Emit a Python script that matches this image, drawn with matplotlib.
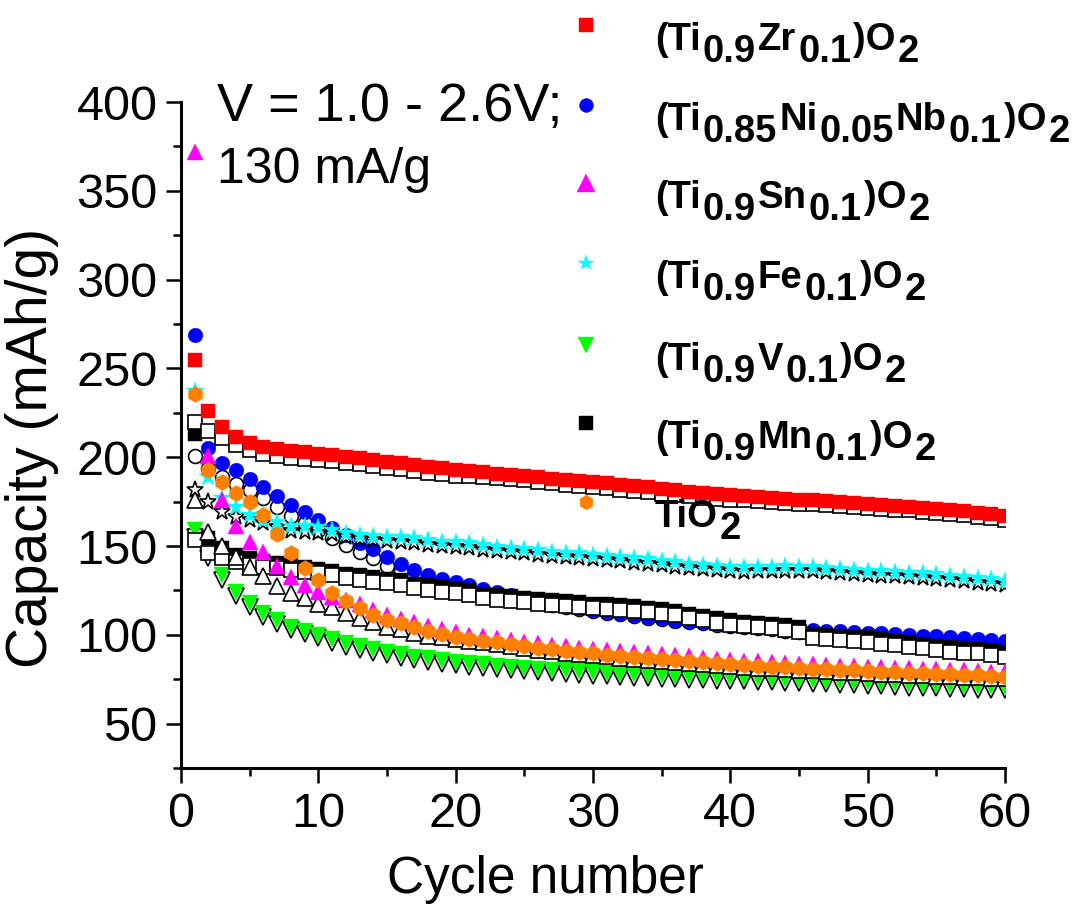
import numpy as np
import matplotlib.pyplot as plt
from matplotlib.lines import Line2D
from matplotlib.ticker import MultipleLocator

plt.rcParams['font.family'] = ['Liberation Sans', 'DejaVu Sans']

cycles = list(range(1, 61))

# (Ti0.9Zr0.1)O2
zr_chg = [255, 226, 217, 211.5, 208, 206, 204.5, 203.5, 203, 202,
          201.2, 200.2, 199.3, 198.4, 197.4, 196.9, 195.6, 194.6, 193.7, 192.9,
          192, 191.5, 190.8, 190.2, 189.6, 188.8, 188, 187.3, 186.6, 186,
          185.2, 184.4, 183.7, 183, 182.2, 181.4, 180.6, 180, 179.4, 178.8,
          178.2, 177.6, 177.1, 176.6, 176.1, 175.7, 175.2, 174.7, 174.2, 173.7,
          173.2, 172.7, 172.2, 171.6, 171, 170.3, 169.5, 168.7, 167.8, 167]
zr_dis = [220, 214.5, 211, 207, 204, 202, 200.8, 199.8, 199.2, 198.7,
          197.9, 196.9, 196, 195.1, 194.1, 193.6, 192.3, 191.3, 190.4, 189.6,
          189.3, 188.8, 188.1, 187.5, 186.9, 186.1, 185.3, 184.6, 183.9, 183.3,
          182.5, 181.7, 181, 180.3, 179.5, 178.7, 177.9, 177.3, 176.7, 176.1,
          176, 175.4, 174.9, 174.4, 173.9, 173.5, 173, 172.5, 172, 171.5,
          171, 170.5, 170, 169.4, 168.8, 168.1, 167.3, 166.5, 165.6, 164.8]

# (Ti0.85Ni0.05Nb0.1)O2
ninb_chg = [269, 205, 196.6, 192.7, 187.7, 183.4, 178, 173, 169, 164.6,
            160, 156.2, 151.5, 148.3, 144, 139.8, 136.5, 133.5, 131.5, 129.5,
            128, 126, 124.2, 122.5, 121, 119.5, 118, 116.6, 115.3, 114,
            113, 112, 111, 110.2, 109.4, 108.6, 107.8, 107, 106.3, 105.6,
            105, 104.5, 104, 103.6, 103.2, 102.8, 102.4, 102, 101.6, 101.2,
            100.8, 100.4, 100, 99.6, 99.1, 98.6, 98.1, 97.6, 97.1, 96.6]
ninb_dis = [200.5, 194, 189, 185, 181.5, 177, 172, 167, 163, 159,
            154.5, 150.5, 146.8, 143, 139, 136, 133, 130.5, 128.5, 126.5,
            125, 123.5, 122, 120.7, 119.4, 118.2, 117, 115.8, 114.6, 113.5,
            112.5, 111.5, 110.5, 109.6, 108.8, 108, 107.2, 106.4, 105.6, 104.9,
            104.2, 103.6, 103, 102.4, 101.8, 101.3, 100.8, 100.3, 99.8, 99.3,
            98.8, 98.3, 97.8, 97.3, 96.8, 96.3, 95.8, 95.3, 94.8, 94.3]

# (Ti0.9Sn0.1)O2
sn_chg = [372, 200.5, 176, 161.5, 152.5, 146.8, 139, 132.7, 128, 124.3,
          121.5, 119.8, 117.3, 113.7, 111.2, 109, 107.1, 104.7, 103, 101.5,
          100, 99.2, 98.2, 97.1, 96.1, 95.2, 94.3, 93.5, 92.7, 92,
          91.3, 90.7, 90.1, 89.5, 89, 88.4, 87.8, 87.2, 86.6, 86,
          85.5, 85, 84.6, 84.2, 83.8, 83.5, 83.1, 82.7, 82.4, 82,
          81.7, 81.4, 81.1, 80.8, 80.5, 80.2, 79.9, 79.6, 79.3, 79]
sn_dis = [176, 158, 150, 144, 138.4, 133, 127.5, 123.5, 121, 117.5,
          115.5, 112, 109.5, 107, 104.5, 103, 101, 99.5, 98.5, 97.5,
          96.5, 95.7, 94.7, 93.6, 92.6, 91.7, 90.8, 90, 89.2, 88.5,
          87.8, 87.2, 86.6, 86, 85.5, 84.9, 84.3, 83.7, 83.1, 82.5,
          82, 81.5, 81.1, 80.7, 80.3, 80, 79.6, 79.2, 78.9, 78.5,
          78.2, 77.9, 77.6, 77.3, 77, 76.7, 76.4, 76.1, 75.8, 75.5]

# (Ti0.9Fe0.1)O2
fe_chg = [237, 189, 177, 172, 167.4, 164.6, 163.7, 161.5, 161, 160.5,
          159, 157.5, 156.3, 155.7, 155.2, 154.8, 154.3, 153.3, 152.4, 152,
          151.6, 150.3, 149.6, 149, 148.3, 147.5, 146.8, 146.3, 145.8, 145.2,
          144.6, 144, 143.2, 142.4, 141.6, 140.8, 140, 139.4, 138.8, 138.3,
          138, 138.2, 138.4, 138.5, 138.4, 138.3, 137.8, 137.2, 136.7, 136.2,
          135.8, 135.4, 135, 134.6, 134, 133.3, 132.6, 131.9, 131.2, 130.5]
fe_dis = [181.5, 175, 169.3, 166.5, 164.6, 162.8, 160.7, 158.5, 158, 157.5,
          156.5, 155, 153.8, 153.2, 152.7, 152.3, 151.8, 150.8, 149.9, 149.5,
          149.1, 147.8, 147.1, 146.5, 145.8, 145, 144.3, 143.8, 143.3, 142.7,
          142.1, 141.5, 140.7, 139.9, 139.1, 138.3, 137.5, 136.9, 136.3, 135.8,
          135.5, 135.7, 135.9, 136, 135.9, 135.8, 135.3, 134.7, 134.2, 133.7,
          133.3, 132.9, 132.5, 132.1, 131.5, 130.8, 130.1, 129.4, 128.7, 128]

# (Ti0.9V0.1)O2
v_chg = [159, 147, 133.6, 124.3, 117.8, 112, 108.3, 104.6, 102.2, 100,
         97.5, 95.2, 93.7, 91.8, 90.5, 89.2, 87.7, 86.8, 85.8, 84.9,
         84, 83.3, 82.6, 82, 81.4, 80.9, 80.4, 79.9, 79.4, 79,
         78.6, 78.2, 77.8, 77.5, 77.2, 76.9, 76.6, 76.4, 76.2, 76,
         75.8, 75.6, 75.3, 75, 74.7, 74.4, 74.1, 73.8, 73.5, 73.2,
         72.9, 72.6, 72.3, 72, 71.8, 71.6, 71.4, 71.2, 71, 70.8]
v_dis = [155, 143, 131, 122, 115.8, 110, 106.3, 102.6, 100.2, 98,
         95.5, 93.2, 91.7, 89.8, 88.5, 87.2, 85.7, 84.8, 83.8, 82.9,
         82, 81.3, 80.6, 80, 79.4, 78.9, 78.4, 77.9, 77.4, 77,
         76.6, 76.2, 75.8, 75.5, 75.2, 74.9, 74.6, 74.4, 74.2, 74,
         73.8, 73.6, 73.3, 73, 72.7, 72.4, 72.1, 71.8, 71.5, 71.2,
         70.9, 70.6, 70.3, 70, 69.8, 69.6, 69.4, 69.2, 69, 68.8]

# (Ti0.9Mn0.1)O2
mn_chg = [213, 154.3, 148.7, 145, 143, 141.5, 140.3, 139.2, 138.2, 137.2,
          136.2, 134.4, 133.4, 132.5, 131.6, 130.6, 128.8, 127.8, 126.9, 125.9,
          125, 123.1, 122.3, 121.6, 120.9, 120.1, 119.4, 118.8, 118.2, 117.6,
          117.1, 116.6, 116, 115.3, 114.5, 113.6, 111.9, 110.7, 109.5, 108.2,
          107.3, 106.8, 106.2, 105.3, 104.3, 100.5, 100, 99.5, 99, 98.5,
          97.6, 96.7, 95.8, 94.8, 93.9, 93, 92.5, 92.1, 91.2, 90.2]
mn_dis = [153.4, 146, 143, 141.2, 139.3, 138.4, 137.5, 136.5, 135.6, 134.6,
          133.7, 131.8, 130.8, 129.9, 129, 128, 126.2, 125.2, 124.3, 123.3,
          122.4, 120.5, 119.7, 119, 118.3, 117.5, 116.8, 116.2, 115.6, 115,
          114.5, 114, 113.4, 112.7, 111.9, 111, 109.3, 108.1, 106.9, 105.6,
          104.8, 104.3, 103.7, 102.8, 101.8, 98, 97.5, 97, 96.5, 96,
          95.1, 94.2, 93.3, 92.3, 91.4, 90.5, 90, 89.6, 88.7, 87.7]

# TiO2
tio2 = [235.5, 192.7, 186, 180, 174.5, 167.4, 157, 145.8, 137.5, 130.8,
        123.3, 119, 115, 111.2, 108.5, 106.5, 104.2, 102.4, 100.6, 99,
        97.8, 96.7, 95.7, 94.6, 93.6, 92.7, 91.8, 91, 90.2, 89.5,
        88.8, 88.2, 87.6, 87, 86.5, 85.9, 85.3, 84.7, 84.1, 83.5,
        83, 82.5, 82.1, 81.7, 81.3, 81, 80.6, 80.2, 79.9, 79.5,
        79.2, 78.9, 78.6, 78.3, 78, 77.7, 77.4, 77.1, 76.8, 76.5]

W, H = 1075, 907
fig = plt.figure(figsize=(W / 100, H / 100), dpi=100)
ax = fig.add_axes([181 / W, 1 - 768 / H, 824 / W, 666 / H])


def filled(y, marker, color, ms):
    ax.plot(cycles, y, ls='none', marker=marker, ms=ms, mfc=color, mec=color, mew=0.3)


def hollow(y, marker, ms):
    ax.plot(cycles, y, ls='none', marker=marker, ms=ms, mfc='white', mec='black', mew=1.2)


hollow(v_dis, 'v', 11.5)
filled(v_chg, 'v', '#00ff00', 12)
hollow(ninb_dis, 'o', 10)
filled(ninb_chg, 'o', '#0000ff', 10.5)
filled(mn_chg, 's', 'black', 9.8)
hollow(mn_dis, 's', 9.6)
hollow(zr_dis, 's', 9.6)
filled(zr_chg, 's', '#ff0000', 10.2)
hollow(fe_dis, '*', 12.5)
filled(fe_chg, '*', '#00ffff', 13.5)
hollow(sn_dis, '^', 11.5)
filled(sn_chg, '^', '#ff00ff', 12)
filled(tio2, 'h', '#ff8000', 11.5)

ax.set_xlim(0, 60)
ax.set_ylim(25, 400)
ax.xaxis.set_major_locator(MultipleLocator(10))
ax.xaxis.set_minor_locator(MultipleLocator(5))
ax.set_yticks(np.arange(50, 401, 50))
ax.yaxis.set_minor_locator(MultipleLocator(25))
for s in ['top', 'right']:
    ax.spines[s].set_visible(False)
for s in ['left', 'bottom']:
    ax.spines[s].set_linewidth(2.2)
ax.tick_params(which='major', direction='out', length=11, width=1.8, labelsize=35, pad=6)
ax.tick_params(which='minor', direction='out', length=6, width=1.8)
ax.set_xlabel('Cycle number', fontsize=37)
ax.xaxis.set_label_coords(0.442, -0.13)
ax.set_ylabel('Capacity (mAh/g)', fontsize=41)
ax.yaxis.set_label_coords(-0.148, 0.48)

fig.text(217 / W, 1 - 121 / H, 'V = 1.0 - 2.6V;', fontsize=39, va='baseline')
fig.text(217 / W, 1 - 183 / H, '130 mA/g', fontsize=36, va='baseline')

# legend drawn by hand so the subscripts can stay full size
legend_rows = [
    ('s', '#ff0000', 9.4, [('(Ti', 0), ('0.9', 1), ('Zr', 0), ('0.1', 1), (')O', 0), ('2', 1)]),
    ('o', '#0000ff', 10, [('(Ti', 0), ('0.85', 1), ('Ni', 0), ('0.05', 1), ('Nb', 0), ('0.1', 1), (')O', 0), ('2', 1)]),
    ('^', '#ff00ff', 12.5, [('(Ti', 0), ('0.9', 1), ('Sn', 0), ('0.1', 1), (')O', 0), ('2', 1)]),
    ('*', '#00ffff', 11.5, [('(Ti', 0), ('0.9', 1), ('Fe', 0), ('0.1', 1), (')O', 0), ('2', 1)]),
    ('v', '#00ff00', 12, [('(Ti', 0), ('0.9', 1), ('V', 0), ('0.1', 1), (')O', 0), ('2', 1)]),
    ('s', 'black', 9.4, [('(Ti', 0), ('0.9', 1), ('Mn', 0), ('0.1', 1), (')O', 0), ('2', 1)]),
    ('h', '#ff8000', 10.5, [('TiO', 0), ('2', 1)]),
]
row_y = [25, 105, 183, 263, 345, 423, 502]

renderer = fig.canvas.get_renderer()
for (mk, col, ms, pieces), y in zip(legend_rows, row_y):
    fig.add_artist(Line2D([586 / W], [1 - y / H], transform=fig.transFigure, ls='none',
                          marker=mk, ms=ms, mfc=col, mec=col, mew=0.3))
    x = 655
    prev = None
    for txt, sub in pieces:
        if prev is not None and prev != sub:
            x += 2
        base = y + 25 + (12 if sub else 0)
        t = fig.text(x / W, 1 - base / H, txt, fontsize=27.5, fontweight='bold', va='baseline', ha='left')
        x += t.get_window_extent(renderer).width
        prev = sub

fig.savefig('out.png', dpi=100)
